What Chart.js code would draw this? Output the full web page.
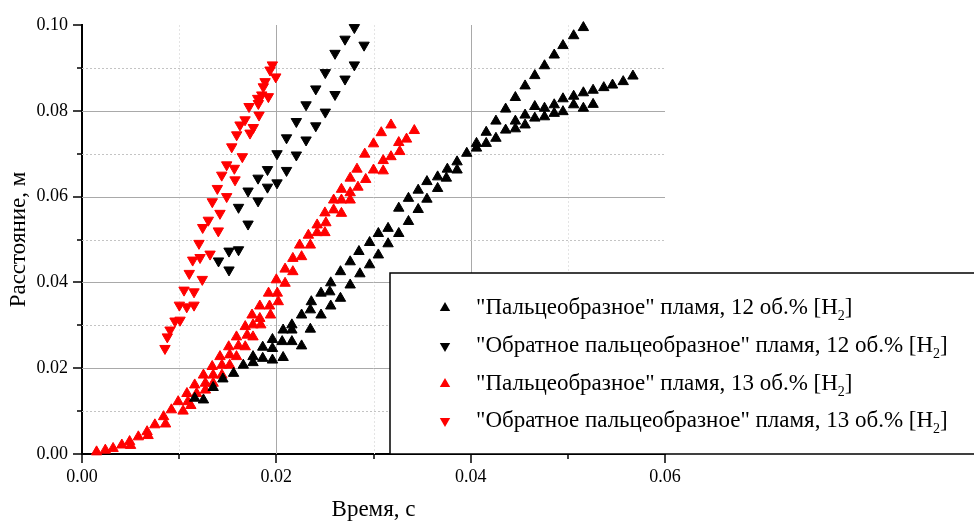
<!DOCTYPE html>
<html>
<head>
<meta charset="utf-8">
<script src="https://cdn.jsdelivr.net/npm/chart.js@4"></script>
<style>
  html, body { margin: 0; padding: 0; background: #fff; }
</style>
</head>
<body>
<canvas id="myChart" width="974" height="524"></canvas>
<script>
// time, s / distance, m
var finger12 = [
  [0.0116,0.0130],[0.0125,0.0126],[0.0135,0.0155],[0.0145,0.0175],[0.0156,0.0188],[0.0166,0.0207],
  [0.0176,0.0213],[0.0176,0.0227],[0.0186,0.0249],[0.0186,0.0223],[0.0196,0.0267],[0.0196,0.0246],
  [0.0196,0.0219],[0.0207,0.0289],[0.0206,0.0262],[0.0207,0.0225],[0.0216,0.0301],[0.0216,0.0262],
  [0.0216,0.0289],[0.0226,0.0324],[0.0226,0.0252],[0.0235,0.0336],[0.0235,0.0291],[0.0236,0.0355],
  [0.0246,0.0375],[0.0246,0.0324],[0.0255,0.0378],[0.0256,0.0345],[0.0256,0.0399],[0.0266,0.0425],
  [0.0266,0.0363],[0.0276,0.0448],[0.0276,0.0394],[0.0285,0.0472],[0.0286,0.0420],[0.0296,0.0493],
  [0.0296,0.0441],[0.0305,0.0514],[0.0305,0.0464],[0.0315,0.0526],[0.0315,0.0490],[0.0326,0.0573],
  [0.0326,0.0514],[0.0336,0.0596],[0.0336,0.0542],[0.0346,0.0615],[0.0346,0.0570],[0.0355,0.0635],
  [0.0355,0.0594],[0.0366,0.0646],[0.0366,0.0619],[0.0375,0.0643],[0.0376,0.0664],[0.0386,0.0681],
  [0.0386,0.0662],[0.0396,0.0701],[0.0406,0.0724],[0.0406,0.0713],[0.0416,0.0750],[0.0416,0.0724],
  [0.0426,0.0776],[0.0426,0.0736],[0.0436,0.0804],[0.0436,0.0755],[0.0446,0.0831],[0.0446,0.0776],
  [0.0446,0.0758],[0.0456,0.0858],[0.0456,0.0790],[0.0456,0.0767],[0.0466,0.0882],[0.0466,0.0810],
  [0.0466,0.0783],[0.0476,0.0905],[0.0476,0.0806],[0.0476,0.0786],[0.0486,0.0930],[0.0486,0.0814],
  [0.0486,0.0794],[0.0495,0.0952],[0.0495,0.0828],[0.0495,0.0798],[0.0506,0.0975],[0.0506,0.0834],
  [0.0506,0.0814],[0.0516,0.0994],[0.0516,0.0842],[0.0516,0.0806],[0.0526,0.0848],[0.0526,0.0815],
  [0.0537,0.0854],[0.0546,0.0860],[0.0557,0.0868],[0.0567,0.0881]
];
var reverse12 = [
  [0.01405,0.0450],[0.01513,0.0473],[0.01513,0.0429],[0.01611,0.0476],[0.01611,0.0575],[0.01709,0.0613],
  [0.01709,0.0536],[0.01812,0.0643],[0.01812,0.0590],[0.01909,0.0663],[0.01909,0.0622],[0.02007,0.0700],
  [0.02007,0.0632],[0.02105,0.0737],[0.02105,0.0661],[0.02206,0.0775],[0.02206,0.0697],[0.02306,0.0814],
  [0.02306,0.0732],[0.02406,0.0851],[0.02406,0.0765],[0.02504,0.0889],[0.02504,0.0797],[0.02604,0.0934],
  [0.02604,0.0838],[0.02707,0.0967],[0.02707,0.0874],[0.02803,0.0994],[0.02803,0.0907],[0.02903,0.0953]
];
var finger13 = [
  [0.0015,0.0005],[0.0024,0.0009],[0.0032,0.0013],[0.0041,0.0021],[0.0049,0.0029],[0.0050,0.0020],
  [0.0058,0.0040],[0.0067,0.0052],[0.0068,0.0043],[0.0075,0.0068],[0.0084,0.0087],[0.0086,0.0070],
  [0.0092,0.0103],[0.0099,0.0122],[0.0104,0.0100],[0.0109,0.0122],[0.0112,0.0113],[0.0108,0.0141],
  [0.0118,0.0141],[0.0116,0.0161],[0.0127,0.0165],[0.0127,0.0149],[0.0125,0.0184],[0.0135,0.0184],
  [0.0135,0.0165],[0.0134,0.0204],[0.0144,0.0207],[0.0144,0.0184],[0.0142,0.0227],[0.0152,0.0231],
  [0.0152,0.0207],[0.0151,0.0250],[0.0161,0.0252],[0.0159,0.0227],[0.0159,0.0273],[0.0170,0.0277],
  [0.0168,0.0250],[0.0168,0.0297],[0.0176,0.0301],[0.0176,0.0273],[0.0175,0.0324],[0.0183,0.0316],
  [0.0184,0.0301],[0.0183,0.0345],[0.0193,0.0345],[0.0194,0.0324],[0.0192,0.0375],[0.0201,0.0375],
  [0.0202,0.0355],[0.0200,0.0406],[0.0209,0.0398],[0.0209,0.0431],[0.0217,0.0425],[0.0217,0.0456],
  [0.0226,0.0460],[0.0224,0.0487],[0.0235,0.0487],[0.0233,0.0510],[0.0242,0.0516],[0.0250,0.0516],
  [0.0242,0.0534],[0.0251,0.0539],[0.0250,0.0562],[0.0259,0.0569],[0.0267,0.0561],[0.0259,0.0592],
  [0.0267,0.0592],[0.0276,0.0592],[0.0267,0.0617],[0.0276,0.0609],[0.0284,0.0622],[0.0276,0.0643],
  [0.0292,0.0640],[0.0283,0.0664],[0.0300,0.0662],[0.0310,0.0660],[0.0291,0.0699],[0.0310,0.0684],
  [0.0318,0.0693],[0.0300,0.0723],[0.0327,0.0705],[0.0308,0.0749],[0.0326,0.0726],[0.0334,0.0734],
  [0.0318,0.0767],[0.0342,0.0754]
];
var reverse13 = [
  [0.00854,0.0246],[0.00878,0.0273],[0.00906,0.0289],[0.00957,0.0310],[0.01009,0.0312],[0.01002,0.0347],
  [0.01078,0.0343],[0.01050,0.0382],[0.01153,0.0347],[0.01153,0.0378],[0.01104,0.0421],[0.01139,0.0452],
  [0.01238,0.0407],[0.01215,0.0458],[0.01204,0.0491],[0.01318,0.0466],[0.01242,0.0528],[0.01300,0.0545],
  [0.01403,0.0520],[0.01341,0.0588],[0.01420,0.0561],[0.01393,0.0619],[0.01489,0.0600],[0.01438,0.0650],
  [0.01575,0.0639],[0.01489,0.0674],[0.01568,0.0666],[0.01541,0.0716],[0.01650,0.0693],[0.01592,0.0744],
  [0.01626,0.0767],[0.01729,0.0748],[0.01763,0.0761],[0.01678,0.0779],[0.01719,0.0810],[0.01822,0.0790],
  [0.01815,0.0817],[0.01808,0.0829],[0.01850,0.0837],[0.01918,0.0833],[0.01866,0.0856],[0.01884,0.0868],
  [0.01994,0.0879],[0.01935,0.0895],[0.01959,0.0907]
];

var seriesLabels = [
  '"Пальцеобразное" пламя, 12 об.% [H₂]',
  '"Обратное пальцеобразное" пламя, 12 об.% [H₂]',
  '"Пальцеобразное" пламя, 13 об.% [H₂]',
  '"Обратное пальцеобразное" пламя, 13 об.% [H₂]'
];
var seriesColors = ['#000000', '#000000', '#ff0000', '#ff0000'];
var seriesRotation = [0, 180, 0, 180];
var seriesData = [finger12, reverse12, finger13, reverse13];

var xMax = 0.06, yMax = 0.10, step = 0.01;
var xTitle = 'Время, с';
var yTitle = 'Расстояние, м';

var FONT = '"Liberation Serif", "Times New Roman", serif';

function toPoints(arr) {
  return arr.map(function (p) { return { x: p[0], y: p[1] }; });
}

function tickLabel(value) {
  var k = Math.round(value / step);
  return k % 2 === 0 ? value.toFixed(2) : '';
}

function triangle(ctx, x, y, r, down, color) {
  var s = down ? -1 : 1;
  ctx.beginPath();
  ctx.moveTo(x, y - s * r);
  ctx.lineTo(x + 0.866 * r, y + s * 0.5 * r);
  ctx.lineTo(x - 0.866 * r, y + s * 0.5 * r);
  ctx.closePath();
  ctx.fillStyle = color;
  ctx.fill();
}

// major grid solid, minor grid dotted
var gridLines = {
  id: 'gridLines',
  beforeDatasetsDraw: function (chart) {
    var ctx = chart.ctx, a = chart.chartArea;
    var xs = chart.scales.x, ys = chart.scales.y;
    ctx.save();
    ctx.lineWidth = 1;
    xs.ticks.forEach(function (t) {
      var k = Math.round(t.value / step);
      if (k <= 0 || k >= 6) return;
      var px = Math.round(xs.getPixelForValue(t.value)) + 0.5;
      if (k % 2 === 0) { ctx.strokeStyle = '#a9a9a9'; ctx.setLineDash([]); }
      else { ctx.strokeStyle = '#e4e4e4'; ctx.setLineDash([2, 2]); }
      ctx.beginPath(); ctx.moveTo(px, a.top); ctx.lineTo(px, a.bottom); ctx.stroke();
    });
    ys.ticks.forEach(function (t) {
      var k = Math.round(t.value / step);
      if (k <= 0 || k >= 10) return;
      var py = Math.round(ys.getPixelForValue(t.value)) + 0.5;
      if (k % 2 === 0) { ctx.strokeStyle = '#a9a9a9'; ctx.setLineDash([]); }
      else { ctx.strokeStyle = '#c4c4c4'; ctx.setLineDash([2, 2]); }
      ctx.beginPath(); ctx.moveTo(a.left, py); ctx.lineTo(a.right, py); ctx.stroke();
    });
    ctx.restore();
  }
};

// outward tick marks and the framed legend over the plot
var overlay = {
  id: 'overlay',
  afterDraw: function (chart) {
    var ctx = chart.ctx, a = chart.chartArea;
    var xs = chart.scales.x, ys = chart.scales.y;
    ctx.save();

    var box = { left: 390, top: 273, right: 990, bottom: a.bottom };
    ctx.fillStyle = '#fff';
    ctx.fillRect(box.left, box.top, box.right - box.left, box.bottom - box.top);
    ctx.strokeStyle = '#000';
    ctx.lineWidth = 1.5;
    ctx.strokeRect(box.left, box.top, box.right - box.left, box.bottom - box.top);

    ctx.strokeStyle = '#000';
    ctx.lineWidth = 1.5;
    xs.ticks.forEach(function (t) {
      var k = Math.round(t.value / step);
      var px = Math.round(xs.getPixelForValue(t.value));
      ctx.beginPath(); ctx.moveTo(px, a.bottom); ctx.lineTo(px, a.bottom + (k % 2 === 0 ? 9 : 5)); ctx.stroke();
    });
    ys.ticks.forEach(function (t) {
      var k = Math.round(t.value / step);
      var py = Math.round(ys.getPixelForValue(t.value));
      ctx.beginPath(); ctx.moveTo(a.left, py); ctx.lineTo(a.left - (k % 2 === 0 ? 9 : 5), py); ctx.stroke();
    });

    var rowY = [308, 346, 384, 421];
    chart.data.datasets.forEach(function (ds, i) {
      var y = rowY[i];
      triangle(ctx, 445, y, 6, ds.pointRotation === 180, ds.backgroundColor);
      var parts = ds.label.split('₂');
      var x = 476;
      ctx.fillStyle = '#000';
      ctx.textBaseline = 'middle';
      ctx.font = '23px ' + FONT;
      ctx.fillText(parts[0], x, y);
      x += ctx.measureText(parts[0]).width;
      ctx.font = '14px ' + FONT;
      ctx.fillText('2', x, y + 8);
      x += ctx.measureText('2').width;
      ctx.font = '23px ' + FONT;
      ctx.fillText(parts[1], x, y);
    });
    ctx.restore();
  }
};

var datasets = seriesData.map(function (arr, i) {
  return {
    label: seriesLabels[i],
    data: toPoints(arr),
    backgroundColor: seriesColors[i],
    borderColor: seriesColors[i],
    pointStyle: 'triangle',
    pointRotation: seriesRotation[i],
    pointRadius: 6,
    pointBorderWidth: 1,
    showLine: false,
    clip: false
  };
});

var myChart = document.getElementById('myChart').getContext('2d');
var chart = new Chart(myChart, {
  type: 'scatter',
  data: { datasets: datasets },
  options: {
    responsive: false,
    animation: false,
    layout: { padding: { left: 5, right: 309, top: 25, bottom: 0 } },
    plugins: {
      legend: { display: false },
      tooltip: { enabled: false }
    },
    scales: {
      x: {
        type: 'linear',
        min: 0,
        max: xMax,
        afterFit: function (scale) { scale.height = 70; },
        grid: { display: false, drawTicks: false },
        border: { display: true, color: '#000', width: 2 },
        ticks: {
          stepSize: step,
          autoSkip: false,
          maxRotation: 0,
          padding: 12,
          color: '#000',
          font: { family: FONT, size: 18 },
          callback: tickLabel
        },
        title: {
          display: true,
          text: xTitle,
          color: '#000',
          font: { family: FONT, size: 23 },
          padding: { top: 0, bottom: 0 }
        }
      },
      y: {
        type: 'linear',
        min: 0,
        max: yMax,
        afterFit: function (scale) { scale.width = 77; },
        grid: { display: false, drawTicks: false },
        border: { display: true, color: '#000', width: 2 },
        ticks: {
          stepSize: step,
          autoSkip: false,
          padding: 14,
          color: '#000',
          font: { family: FONT, size: 18 },
          callback: tickLabel
        },
        title: {
          display: true,
          text: yTitle,
          color: '#000',
          font: { family: FONT, size: 23 },
          padding: { top: 0, bottom: 0 }
        }
      }
    }
  },
  plugins: [gridLines, overlay]
});
</script>
</body>
</html>
